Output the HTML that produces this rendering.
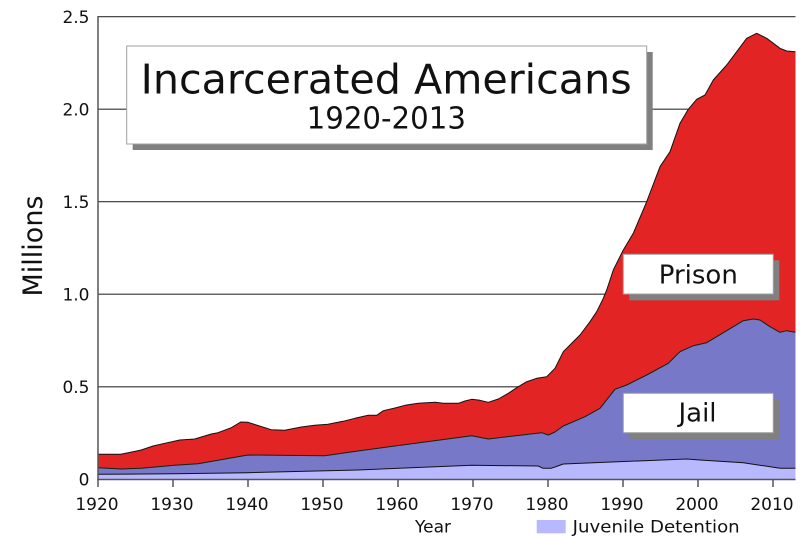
<!DOCTYPE html>
<html>
<head>
<meta charset="utf-8">
<style>
  html, body { margin: 0; padding: 0; background: #ffffff; }
  svg { display: block; }
  text { font-family: "DejaVu Sans", "Liberation Sans", sans-serif; fill: #111; }
</style>
</head>
<body>
<svg width="800" height="536" viewBox="0 0 800 536" xmlns="http://www.w3.org/2000/svg">
  <rect x="0" y="0" width="800" height="536" fill="#ffffff"/>

  <!-- gridlines -->
  <g stroke="#333" stroke-width="1.2">
    <line x1="98" y1="16.7" x2="795.5" y2="16.7"/>
    <line x1="98" y1="109.2" x2="795.5" y2="109.2"/>
    <line x1="98" y1="201.7" x2="795.5" y2="201.7"/>
    <line x1="98" y1="294.2" x2="795.5" y2="294.2"/>
    <line x1="98" y1="386.8" x2="795.5" y2="386.8"/>
  </g>

  <!-- Prison (total) area -->
  <polygon fill="#e32424" points="98,479.3 98,454.3 120.7,454.3 141.3,450 153,446 164.7,443.3 179.7,440 194.7,439 211.3,434 218,432.7 231.3,427.7 240.7,422 248,422.3 256.3,425 271.3,429.7 284.7,430.3 301.3,427 314.7,425.3 328,424.3 343,421.3 355,418.3 368.3,415.3 376.7,415.3 383.3,410.7 395,408 405,405.3 418.3,403.3 435,402.3 443.3,403.3 458.3,403.3 465,401 471.7,399.3 480,400.3 488.3,402.3 498.3,399 508.3,393.3 518.3,386.7 526.7,381.7 536.7,378.3 546.7,376.7 555,368.3 563.3,351.7 570,345 580,335 590,321.7 596.7,311.7 603.3,298.3 606.7,290 613.3,270 623.3,250 633.3,233.3 646.7,201.7 660,166.7 670,151.7 680,123.3 688.3,109.3 696.7,99.3 705,95 713.3,80 726.7,65 736.7,51.7 746.7,38.3 756.7,33.3 766.7,38.3 780,48.3 786.7,51 795.5,51.7 795.5,479.3"/>
  <polyline fill="none" stroke="#111" stroke-width="1" stroke-linejoin="round" points="98,454.3 120.7,454.3 141.3,450 153,446 164.7,443.3 179.7,440 194.7,439 211.3,434 218,432.7 231.3,427.7 240.7,422 248,422.3 256.3,425 271.3,429.7 284.7,430.3 301.3,427 314.7,425.3 328,424.3 343,421.3 355,418.3 368.3,415.3 376.7,415.3 383.3,410.7 395,408 405,405.3 418.3,403.3 435,402.3 443.3,403.3 458.3,403.3 465,401 471.7,399.3 480,400.3 488.3,402.3 498.3,399 508.3,393.3 518.3,386.7 526.7,381.7 536.7,378.3 546.7,376.7 555,368.3 563.3,351.7 570,345 580,335 590,321.7 596.7,311.7 603.3,298.3 606.7,290 613.3,270 623.3,250 633.3,233.3 646.7,201.7 660,166.7 670,151.7 680,123.3 688.3,109.3 696.7,99.3 705,95 713.3,80 726.7,65 736.7,51.7 746.7,38.3 756.7,33.3 766.7,38.3 780,48.3 786.7,51 795.5,51.7"/>

  <!-- Jail area -->
  <polygon fill="#7878c8" points="98,479.3 98,467.7 121.3,469 141.3,468.3 174.7,465.3 198,463.7 248,455 324.7,455.7 358,451 471.7,435.7 488.3,439 541.7,432.7 548.3,435 555,432 563.3,426 585,416.7 600,408.3 615,389.3 626.7,385 646.7,375 668.3,363.3 680,351.7 693.3,345.7 706.7,342.7 716.7,336.7 733.3,326.7 743.3,320.7 753.3,319 760,320 770,326.7 780,332.3 786.7,330.7 795.5,332.3 795.5,479.3"/>
  <polyline fill="none" stroke="#112211" stroke-width="1" stroke-linejoin="round" points="98,467.7 121.3,469 141.3,468.3 174.7,465.3 198,463.7 248,455 324.7,455.7 358,451 471.7,435.7 488.3,439 541.7,432.7 548.3,435 555,432 563.3,426 585,416.7 600,408.3 615,389.3 626.7,385 646.7,375 668.3,363.3 680,351.7 693.3,345.7 706.7,342.7 716.7,336.7 733.3,326.7 743.3,320.7 753.3,319 760,320 770,326.7 780,332.3 786.7,330.7 795.5,332.3"/>

  <!-- Juvenile area -->
  <polygon fill="#b8b8ff" points="98,479.3 98,474.3 174.7,473.7 248,472.7 358,470 471.7,465.3 538.3,466 543,468.3 551,468.3 555,467 563.3,464 686.7,459 700,460 743.3,462.7 780,468.3 795.5,468.3 795.5,479.3"/>
  <polyline fill="none" stroke="#111" stroke-width="1" stroke-linejoin="round" points="98,474.3 174.7,473.7 248,472.7 358,470 471.7,465.3 538.3,466 543,468.3 551,468.3 555,467 563.3,464 686.7,459 700,460 743.3,462.7 780,468.3 795.5,468.3"/>

  <!-- axes -->
  <g stroke="#555" stroke-width="1.5">
    <line x1="98" y1="16" x2="98" y2="480"/>
    <line x1="97.3" y1="479.5" x2="795.5" y2="479.5"/>
    <line x1="98" y1="479" x2="98" y2="487"/>
    <line x1="173" y1="479" x2="173" y2="487"/>
    <line x1="248" y1="479" x2="248" y2="487"/>
    <line x1="323" y1="479" x2="323" y2="487"/>
    <line x1="398" y1="479" x2="398" y2="487"/>
    <line x1="473" y1="479" x2="473" y2="487"/>
    <line x1="548" y1="479" x2="548" y2="487"/>
    <line x1="623" y1="479" x2="623" y2="487"/>
    <line x1="698" y1="479" x2="698" y2="487"/>
    <line x1="773" y1="479" x2="773" y2="487"/>
  </g>

  <!-- y tick labels -->
  <g font-size="17" text-anchor="end">
    <text x="89.5" y="23">2.5</text>
    <text x="89.5" y="115.5">2.0</text>
    <text x="89.5" y="208">1.5</text>
    <text x="89.5" y="300.5">1.0</text>
    <text x="89.5" y="393">0.5</text>
    <text x="89.5" y="485.5">0</text>
  </g>

  <!-- x tick labels -->
  <g font-size="17" text-anchor="middle">
    <text x="97" y="510">1920</text>
    <text x="172" y="510">1930</text>
    <text x="247" y="510">1940</text>
    <text x="322" y="510">1950</text>
    <text x="397" y="510">1960</text>
    <text x="472" y="510">1970</text>
    <text x="547" y="510">1980</text>
    <text x="622" y="510">1990</text>
    <text x="697" y="510">2000</text>
    <text x="772" y="510">2010</text>
  </g>

  <!-- axis titles -->
  <text x="0" y="0" font-size="27" text-anchor="middle" transform="translate(42,246) rotate(-90)">Millions</text>
  <text x="415" y="532.5" font-size="17">Year</text>

  <!-- legend -->
  <rect x="536.7" y="520" width="29" height="13.3" fill="#b8b8ff"/>
  <text x="572.7" y="532.5" font-size="17" textLength="167" lengthAdjust="spacingAndGlyphs">Juvenile Detention</text>

  <!-- title box -->
  <rect x="132.7" y="52" width="520" height="98" fill="#808080"/>
  <rect x="126.7" y="46" width="520" height="98" fill="#ffffff" stroke="#a0a0a0" stroke-width="1"/>
  <text x="386.2" y="93.3" font-size="41" text-anchor="middle" textLength="491" lengthAdjust="spacingAndGlyphs">Incarcerated Americans</text>
  <text x="386.3" y="128.3" font-size="30" text-anchor="middle" textLength="159.3" lengthAdjust="spacingAndGlyphs">1920-2013</text>

  <!-- Prison box -->
  <rect x="629.3" y="260.3" width="150" height="40" fill="#808080"/>
  <rect x="623.3" y="254.3" width="150" height="39.7" fill="#ffffff" stroke="#a0a0a0" stroke-width="1"/>
  <text x="698.3" y="283.3" font-size="26" text-anchor="middle">Prison</text>

  <!-- Jail box -->
  <rect x="629.3" y="399.3" width="150" height="39.7" fill="#808080"/>
  <rect x="623.3" y="393.3" width="150" height="39.4" fill="#ffffff" stroke="#a0a0a0" stroke-width="1"/>
  <text x="697.5" y="421.7" font-size="26" text-anchor="middle">Jail</text>
</svg>
</body>
</html>
